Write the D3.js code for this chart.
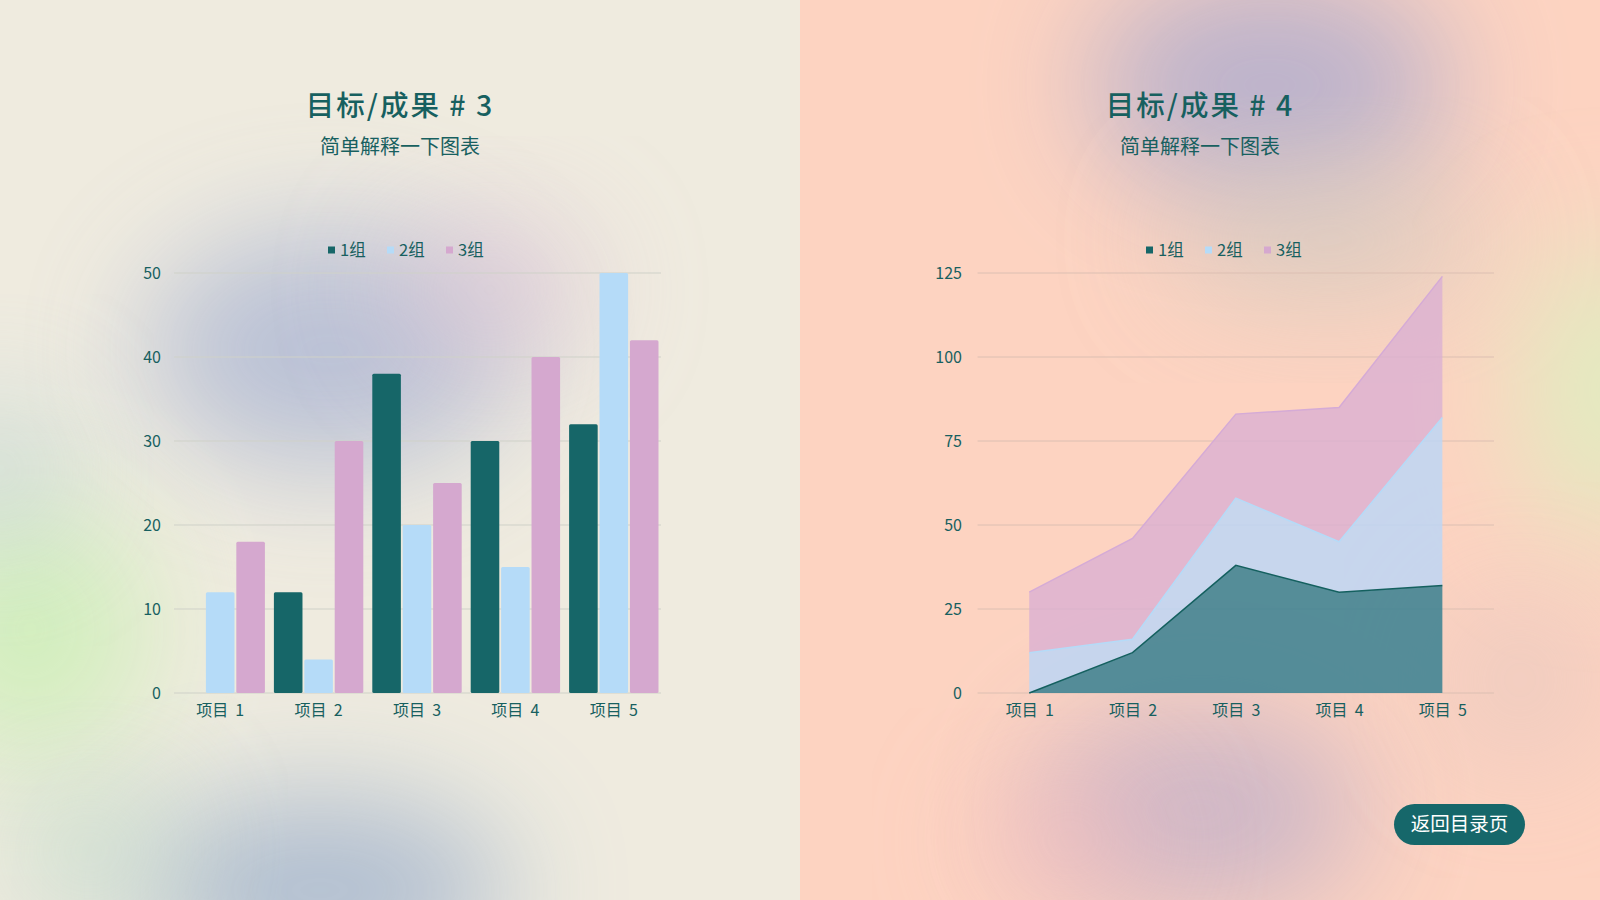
<!DOCTYPE html>
<html>
<head>
<meta charset="utf-8">
<script src="https://cdn.jsdelivr.net/npm/d3@7"></script>
<style>
  html, body { margin: 0; padding: 0; background: #efebdf; }
  svg { display: block; font-family: "Noto Sans CJK SC", "Noto Sans", sans-serif; }
</style>
</head>
<body>
<svg id="page" width="1600" height="900"></svg>
<script>
// ---- data ----
var categories = ["项目 1", "项目 2", "项目 3", "项目 4", "项目 5"];
var groups = ["1组", "2组", "3组"];
var group1 = [0, 12, 38, 30, 32];
var group2 = [12, 4, 20, 15, 50];
var group3 = [18, 30, 25, 40, 42];
var barTicks = [0, 10, 20, 30, 40, 50];
var areaTicks = [0, 25, 50, 75, 100, 125];

var colors = ["#166668", "#b5dbf8", "#d5a8cf"];
var textColor = "#17605f";

var svg = d3.select("#page");
var defs = svg.append("defs");

defs.append("filter").attr("id", "soft")
    .attr("x", "-60%").attr("y", "-60%").attr("width", "220%").attr("height", "220%")
  .append("feGaussianBlur").attr("stdDeviation", 60);

defs.append("clipPath").attr("id", "clipL")
  .append("rect").attr("x", 0).attr("y", 0).attr("width", 800).attr("height", 900);
defs.append("clipPath").attr("id", "clipR")
  .append("rect").attr("x", 800).attr("y", 0).attr("width", 800).attr("height", 900);

// ---- backgrounds with blurry blobs ----
svg.append("rect").attr("width", 800).attr("height", 900).attr("fill", "#efebdf");
svg.append("rect").attr("x", 800).attr("width", 800).attr("height", 900).attr("fill", "#fdd3c1");

var blobsL = [
  {cx: 330, cy: 350, rx: 185, ry: 120, c: "#b0bad4", o: 0.85},
  {cx: 490, cy: 290, rx: 100, ry: 70, c: "#dcc2d6", o: 0.7},
  {cx: 30,  cy: 630, rx: 120, ry: 130, c: "#d0efbb", o: 0.95},
  {cx: 0,   cy: 470, rx: 70,  ry: 80, c: "#c1d6d6", o: 0.7},
  {cx: 320, cy: 890, rx: 190, ry: 95, c: "#a9b9cf", o: 0.9},
  {cx: 90,  cy: 850, rx: 90,  ry: 70, c: "#c3dccb", o: 0.7}
];
var blobsR = [
  {cx: 1270, cy: 85,  rx: 180, ry: 115, c: "#b8b1cc", o: 0.95},
  {cx: 1330, cy: 240, rx: 160, ry: 65, c: "#cdcbbf", o: 0.65},
  {cx: 1610, cy: 390, rx: 90,  ry: 150, c: "#e1ecc0", o: 1},
  {cx: 1200, cy: 810, rx: 165, ry: 100, c: "#c6b3c8", o: 0.9},
  {cx: 1070, cy: 840, rx: 90,  ry: 60, c: "#f3b9bd", o: 0.6},
  {cx: 1520, cy: 680, rx: 80,  ry: 90, c: "#e3c6c0", o: 0.6}
];

function drawBlobs(list, clip) {
  svg.append("g").attr("clip-path", "url(#" + clip + ")")
    .selectAll("ellipse").data(list).enter().append("ellipse")
      .attr("cx", function (d) { return d.cx; })
      .attr("cy", function (d) { return d.cy; })
      .attr("rx", function (d) { return d.rx; })
      .attr("ry", function (d) { return d.ry; })
      .attr("fill", function (d) { return d.c; })
      .attr("opacity", function (d) { return d.o; })
      .attr("filter", "url(#soft)");
}
drawBlobs(blobsL, "clipL");
drawBlobs(blobsR, "clipR");

// ---- titles ----
function titles(cx, num) {
  svg.append("text").attr("x", cx).attr("y", 116)
    .attr("text-anchor", "middle").attr("fill", textColor)
    .attr("font-size", 28.5).attr("font-weight", 500).attr("letter-spacing", 2)
    .text("目标/成果 # " + num);
  svg.append("text").attr("x", cx).attr("y", 154)
    .attr("text-anchor", "middle").attr("fill", textColor)
    .attr("font-size", 20)
    .text("简单解释一下图表");
}
titles(400, 3);
titles(1200, 4);

// ---- legends ----
function legend(x0) {
  var g = svg.append("g").attr("transform", "translate(" + x0 + ",250)");
  var item = g.selectAll("g").data(groups).enter().append("g")
    .attr("transform", function (d, i) { return "translate(" + (i * 59) + ",0)"; });
  item.append("rect").attr("x", 0).attr("y", -3.5).attr("width", 7).attr("height", 7)
    .attr("fill", function (d, i) { return colors[i]; });
  item.append("text").attr("x", 12).attr("y", 6)
    .attr("fill", textColor).attr("font-size", 16.5).text(function (d) { return d; });
}
legend(328);
legend(1146);

// ---- bar chart (left) ----
var yB = d3.scaleLinear().domain([0, 50]).range([693, 273]);
var x0 = d3.scaleBand().domain(categories).range([171, 663]).padding(0);
var x1 = d3.scaleBand().domain(groups).range([4.5, x0.bandwidth() - 4.5]).paddingInner(0.06);

var gridL = svg.append("g");
gridL.selectAll("line").data(barTicks).enter().append("line")
  .attr("x1", 174).attr("x2", 661)
  .attr("y1", function (d) { return yB(d); }).attr("y2", function (d) { return yB(d); })
  .attr("stroke", "#cfd1c8").attr("stroke-width", 1);

function styleAxis(sel) {
  sel.select(".domain").remove();
  sel.selectAll("text").attr("fill", textColor).attr("font-size", 16)
    .attr("font-family", "'Noto Sans CJK SC', sans-serif");
}

var yAxisL = svg.append("g").attr("transform", "translate(161,0)")
  .call(d3.axisLeft(yB).tickValues(barTicks).tickSize(0).tickPadding(0));
styleAxis(yAxisL);

var barSeries = [group1, group2, group3];
var catG = svg.append("g").selectAll("g").data(categories).enter().append("g")
  .attr("transform", function (d) { return "translate(" + x0(d) + ",0)"; });
catG.selectAll("rect").data(function (d, ci) {
    return groups.map(function (g, gi) { return {g: g, gi: gi, v: barSeries[gi][ci]}; });
  }).enter().append("rect")
  .filter(function (d) { return d.v > 0; })
  .attr("x", function (d) { return x1(d.g); })
  .attr("width", x1.bandwidth())
  .attr("y", function (d) { return yB(d.v); })
  .attr("height", function (d) { return yB(0) - yB(d.v); })
  .attr("rx", 1.5)
  .attr("fill", function (d) { return colors[d.gi]; });

var xAxisL = svg.append("g").attr("transform", "translate(0,693)")
  .call(d3.axisBottom(x0).tickSize(0).tickPadding(12));
styleAxis(xAxisL);
xAxisL.selectAll("text").attr("xml:space", "preserve").text(function (d) { return d.replace(" ", "  "); });

// ---- stacked area chart (right) ----
var yA = d3.scaleLinear().domain([0, 125]).range([693, 273]);
var xA = d3.scalePoint().domain(categories).range([977.6, 1494]).padding(0.5);

var gridR = svg.append("g");
gridR.selectAll("line").data(areaTicks).enter().append("line")
  .attr("x1", 977.6).attr("x2", 1494)
  .attr("y1", function (d) { return yA(d); }).attr("y2", function (d) { return yA(d); })
  .attr("stroke", "#dcbfb2").attr("stroke-width", 1);

var yAxisR = svg.append("g").attr("transform", "translate(962,0)")
  .call(d3.axisLeft(yA).tickValues(areaTicks).tickSize(0).tickPadding(0));
styleAxis(yAxisR);

var table = categories.map(function (c, i) {
  return {cat: c, "1组": group1[i], "2组": group2[i], "3组": group3[i]};
});
var stacked = d3.stack().keys(groups)(table);

var area = d3.area()
  .x(function (d) { return xA(d.data.cat); })
  .y0(function (d) { return yA(d[0]); })
  .y1(function (d) { return yA(d[1]); });
var topLine = d3.line()
  .x(function (d) { return xA(d.data.cat); })
  .y(function (d) { return yA(d[1]); });

var areaFill = ["#3c8292", "#bdd6f4", "#dbb0d2"];
var areaOpacity = [0.87, 0.85, 0.8];
var areaStroke = ["#14605f", "#b5dbf8", "#d5abd6"];

var ag = svg.append("g");
ag.selectAll("path.area").data(stacked).enter().append("path")
  .attr("class", "area")
  .attr("d", area)
  .attr("fill", function (d, i) { return areaFill[i]; })
  .attr("fill-opacity", function (d, i) { return areaOpacity[i]; });
ag.selectAll("path.edge").data(stacked).enter().append("path")
  .attr("class", "edge")
  .attr("d", topLine)
  .attr("fill", "none")
  .attr("stroke", function (d, i) { return areaStroke[i]; })
  .attr("stroke-width", 1.5);

var xAxisR = svg.append("g").attr("transform", "translate(0,693)")
  .call(d3.axisBottom(xA).tickSize(0).tickPadding(12));
styleAxis(xAxisR);
xAxisR.selectAll("text").attr("xml:space", "preserve").text(function (d) { return d.replace(" ", "  "); });

// ---- back button ----
var btn = svg.append("g").attr("transform", "translate(1394,804)");
btn.append("rect").attr("width", 131).attr("height", 41).attr("rx", 20.5)
  .attr("fill", "#16676a");
btn.append("text").attr("x", 65.5).attr("y", 27)
  .attr("text-anchor", "middle").attr("fill", "#ffffff").attr("font-size", 19.5)
  .text("返回目录页");
</script>
</body>
</html>
